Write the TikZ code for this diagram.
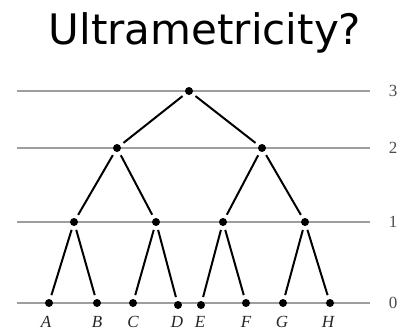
\documentclass[tikz,border=0pt]{standalone}
\usepackage{fontspec}
\setmainfont{Liberation Serif}
\newfontfamily\titlefont{DejaVu Sans}
\tikzset{
  dot/.style={circle, fill=black, inner sep=0pt, minimum size=8pt},
  edge/.style={line width=2pt, black, shorten <=4pt, shorten >=4pt},
  level/.style={line width=1.2pt, black!38},
  levno/.style={font=\fontsize{17}{17}\selectfont, black!70},
  leaf/.style={font=\fontsize{17}{17}\selectfont\itshape, black!85, anchor=base},
}
\begin{document}
\begin{tikzpicture}[x=1pt, y=-1pt]
\useasboundingbox (0,0) rectangle (402,332);
\node[font=\titlefont\fontsize{42}{42}\selectfont, anchor=base] (title) at (205,45) {Ultrametricity?};
% levels
\foreach \yy/\nn in {91/3, 148/2, 222/1, 303/0} {
  \draw[level] (17,\yy) -- (370,\yy);
  \node[levno] at (393,\yy) {\nn};
}
% inner nodes
\node[dot] (r)  at (189,91) {};
\node[dot] (p)  at (117,148) {};
\node[dot] (q)  at (262,148) {};
\node[dot] (pa) at (74,222) {};
\node[dot] (pb) at (156,222) {};
\node[dot] (qa) at (223,222) {};
\node[dot] (qb) at (305,222) {};
% leaves
\node[dot] (a) at (49,303) {};
\node[dot] (b) at (97,303) {};
\node[dot] (c) at (133,303) {};
\node[dot] (d) at (178,305) {};
\node[dot] (e) at (201,305) {};
\node[dot] (f) at (246,303) {};
\node[dot] (g) at (283,303) {};
\node[dot] (h) at (330,303) {};
\foreach \n/\t/\xx in {a/A/46, b/B/97, c/C/133, d/D/177, e/E/200, f/F/246, g/G/282, h/H/328}
  \node[leaf] at (\xx,327) {\t};
% branches
\draw[edge] (r) -- (p);
\draw[edge] (r) -- (q);
\draw[edge] (p) -- (pa);
\draw[edge] (p) -- (pb);
\draw[edge] (q) -- (qa);
\draw[edge] (q) -- (qb);
\draw[edge] (pa) -- (a);
\draw[edge] (pa) -- (b);
\draw[edge] (pb) -- (c);
\draw[edge] (pb) -- (d);
\draw[edge] (qa) -- (e);
\draw[edge] (qa) -- (f);
\draw[edge] (qb) -- (g);
\draw[edge] (qb) -- (h);
\end{tikzpicture}
\end{document}
